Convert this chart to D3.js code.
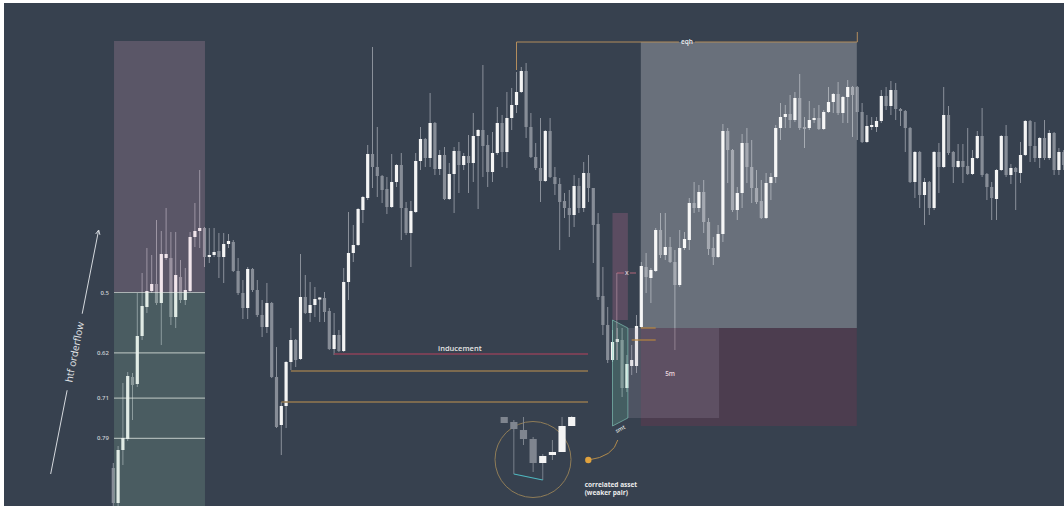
<!DOCTYPE html>
<html>
<head>
<meta charset="utf-8">
<script src="https://cdn.jsdelivr.net/npm/d3@7"></script>
<style>
  html, body { margin: 0; padding: 0; background: #ffffff; }
  svg { display: block; font-family: "Open Sans", "DejaVu Sans", sans-serif; }
</style>
</head>
<body>
<div id="chart"></div>
<script>
// main pair, one candle per slot: [open, high, low, close]
const candles = [
  [38,43,0,3],[3,60,0,56],[56,123,41,68],[67,134,65,130],[129,133,86,121],[122,213,119,170],
  [170,233,166,200],[199,258,193,215],[215,251,213,222],[222,286,201,203],[203,275,161,252],[248,298,246,252],
  [248,274,181,189],[189,274,178,231],[229,246,203,206],[206,238,201,216],[215,274,214,269],[269,303,259,275],
  [275,336,258,278],[278,279,239,249],[249,278,243,251],[251,278,249,254],[255,273,228,249],[249,273,223,262],
  [262,272,258,265],[264,266,234,235],[235,248,211,213],[213,226,187,198],[198,239,187,237],[237,238,214,216],
  [216,226,189,191],[191,206,169,179],[179,223,173,203],[203,204,128,129],[129,159,78,79],[81,104,51,100],
  [100,145,78,144],[144,178,136,166],[166,167,139,146],[147,252,146,209],[209,231,192,193],[193,224,184,201],
  [201,219,189,207],[206.5,209,184,208.5],[208,214,184,194],[195,198,156,157],[157,193,151,171],[171,176,154,155],
  [155,238,154,224],[224,294,206,253],[253,281,244,261],[261,298,260,297],[296,310,283,309],[308,361,306,352],
  [352,459,318,339],[339,379,309,330],[330,331,303,316],[317,329,292,299],[299,352,298,324],[324,342,319,341],
  [341,353,266,298],[298,304,271,273],[273,305,239,295],[294,353,293,345],[345,379,336,367],[367,368,339,348],
  [348,413,339,383],[383,384,331,337],[337,356,331,351],[351,359,306,307],[307,343,306,332],[332,359,293,355],
  [355,364,313,341],[341,353,336,350],[350,371,313,343],[343,393,324,370],[370,377,297,376],[376,441,329,360],
  [361,371,319,334],[334,374,324,353],[353,399,351,383],[383,391,339,354],[354,414,338,388],[388,418,376,401],
  [401,434,393,414],[414,439,413,435],[435,443,368,379],[379,393,348,349],[349,363,336,338],[338,388,304,325],
  [325,376,324,375],[375,388,328,329],[329,339,311,322],[322,328,256,304],[305,313,288,298],[298,316,269,291],
  [291,331,279,320],[320,328,293,298],[298,344,294,333],[333,351,304,318],[318,318,243,281],[282,293,206,209],
  [210,239,171,181],[181,199,143,146],[146,176,144,164],[164,178,146,167],[166,178,109,118],[118,151,114,142],
  [140,161,131,146],[140,191,133,180],[179,244,178,240],[239,253,213,229],[228,238,203,236],[235,278,234,276],
  [276,293,248,251],[251,293,246,259],[259,269,243,244],[244,256,156,221],[221,276,219,258],[258,274,256,267],
  [266,308,256,303],[303,324,293,298],[298,321,294,314],[314,326,273,284],[284,288,251,257],[258,269,241,249],
  [249,281,248,272],[272,382,264,375],[375,378,323,356],[356,357,294,296],[296,319,286,313],[313,372,298,363],
  [363,378,323,339],[339,366,303,318],[318,336,302,304],[305,326,287,288],[288,333,287,323],[323,333,306,329],
  [329,381,323,378],[378,403,366,389],[389,401,378,392],[392,411,378,386],[386,414,384,408],[408,432,376,378],
  [379,389,358,377],[378,405,376,386],[386,398,383,388],[388,401,376,377],[377,396,376,394],[394,419,393,404],
  [404,413,393,412],[412,424,391,393],[393,410,383,409],[409,426,383,419],[419,420,369,411],[419,420,366,394],
  [394,403,363,364],[364,391,363,380],[379,389,376,381],[379,389,374,385],[385,416,383,410],[410,419,396,400],
  [400,425,391,416],[416,423,386,397],[397,398,380,395],[395,396,354,378],[378,379,323,324],[324,355,308,354],
  [354,355,298,311],[311,328,281,324],[324,325,291,298],[298,355,296,354],[354,363,313,339],[339,419,338,391],
  [391,400,351,353],[354,355,323,339],[339,362,338,345],[345,362,323,339],[340,378,331,332],[332,356,331,348],
  [348,375,347,370],[370,398,329,331],[332,333,306,319],[319,324,286,308],[307,337,286,336],[336,371,335,370],
  [370,381,329,331],[331,342,322,338],[338,339,296,334],[333,364,323,351],[351,386,350,385],[385,386,344,360],
  [360,384,344,348],[348,369,338,368],[368,386,346,348],[348,376,346,373],[373,374,331,336],[336,358,331,354],
  [354,356,336,341]
];

// correlated asset (weaker pair) mini chart: [open, high, low, close]
const miniCandles = [
  [89,89,83,83],[84,86,74,77],[76,89,61,67],[67,69,34,43],
  [43,52,40,50],[51,66,46,54],[54,89,54,80],[80,90,80,89]
];

// htf fib: price of level 0 and level 1, drawn over candle slots
const fibTop = 465, fibBottom = -38;
const fibSlots = [0.15, 19.1];
const fibLevels = [0.5, 0.62, 0.71, 0.79];
const fibLabels = ['0.5', '0.62', '0.71', '0.79'];

// resting liquidity lines: [from slot, to slot, price]
const inducement = [46, 98.9, 152];
const sellside = [[37, 98.9, 135], [35, 98.9, 104]];

// equal highs
const eqhSlots = [84, 155];
const eqhPrice = 464, eqhWick = 436, eqhTick = 474;

// range boxes (slots and prices)
const premiumSlots = [109.9, 154.9], premiumPrices = [464, 178];
const discountPrices = [178, 80];
const fiveMinSlots = [107.2, 126.2], fiveMinPrices = [178, 88];
const smtSlots = [104.0, 107.2];
const smtTopPrices = [293, 186];
const smtPoly = [[104.0, 186], [107.2, 178], [107.2, 88], [104.0, 80]];

// small markers
const xMark = { from: 104.9, to: 108.9, price: 233, drop: 146, label: 107 };
const entryLines = [[109.9, 113.0, 178], [108.0, 113.0, 166]];

const W = 1064, H = 506;

const svg = d3.select('#chart').append('svg')
    .attr('width', W)
    .attr('height', H);

svg.append('rect')
    .attr('x', 4).attr('y', 3)
    .attr('width', W - 4).attr('height', H - 3)
    .attr('fill', '#37414f');

const x = d3.scaleLinear().domain([0, candles.length - 1]).range([113.3, 1063.7]);
const y = d3.scaleLinear().domain([0, 506]).range([506, 0]);

const plot = svg.append('g');

// candles
plot.selectAll('.wick')
    .data(candles)
    .enter()
    .append('line')
    .attr('class', 'wick')
    .attr('x1', (d, i) => x(i))
    .attr('x2', (d, i) => x(i))
    .attr('y1', d => y(d[1]))
    .attr('y2', d => y(d[2]))
    .attr('stroke', '#8a909a')
    .attr('stroke-width', 1);

plot.selectAll('.body')
    .data(candles)
    .enter()
    .append('rect')
    .attr('class', 'body')
    .attr('x', (d, i) => x(i) - 1.6)
    .attr('width', 3.2)
    .attr('y', d => y(Math.max(d[0], d[3])))
    .attr('height', d => Math.max(1, Math.abs(y(d[0]) - y(d[3]))))
    .attr('fill', d => d[3] >= d[0] ? '#f4f4f4' : '#878d97');

// zones
function zone(slots, prices, fill) {
    svg.append('rect')
        .attr('x', x(slots[0]))
        .attr('width', x(slots[1]) - x(slots[0]))
        .attr('y', y(prices[0]))
        .attr('height', y(prices[1]) - y(prices[0]))
        .attr('fill', fill);
}

const fibPrice = lvl => fibTop - lvl * (fibTop - fibBottom);

zone(fibSlots, [fibTop, fibPrice(0.5)], 'rgba(230,170,200,0.2)');
zone(fibSlots, [fibPrice(0.5), fibPrice(1)], 'rgba(150,200,170,0.2)');
zone(premiumSlots, premiumPrices, 'rgba(255,255,255,0.25)');
zone(premiumSlots, discountPrices, 'rgba(140,50,80,0.25)');
zone(fiveMinSlots, fiveMinPrices, 'rgba(170,160,180,0.2)');
zone(smtSlots, smtTopPrices, 'rgba(200,110,150,0.25)');

svg.append('polygon')
    .attr('points', smtPoly.map(d => [x(d[0]), y(d[1])].join(',')).join(' '))
    .attr('fill', 'rgba(120,200,170,0.22)')
    .attr('stroke', 'rgba(140,215,200,0.7)')
    .attr('stroke-width', 0.8);

// fib levels
svg.selectAll('.fib')
    .data(fibLevels)
    .enter()
    .append('line')
    .attr('x1', x(fibSlots[0]))
    .attr('x2', x(fibSlots[1]))
    .attr('y1', d => y(fibPrice(d)))
    .attr('y2', d => y(fibPrice(d)))
    .attr('stroke', 'rgba(235,240,235,0.6)')
    .attr('stroke-width', 1.2);

svg.selectAll('.fib-label')
    .data(fibLevels)
    .enter()
    .append('text')
    .attr('x', x(-0.9))
    .attr('y', d => y(fibPrice(d)))
    .attr('dy', '0.35em')
    .attr('text-anchor', 'end')
    .style('font-size', '6px')
    .style('font-weight', '600')
    .style('fill', '#c9ced3')
    .text((d, i) => fibLabels[i]);

// htf orderflow arrow
const arrowFrom = [-13.05, 32], arrowTo = [-3.05, 276];
const ax0 = x(arrowFrom[0]), ay0 = y(arrowFrom[1]), ax1 = x(arrowTo[0]), ay1 = y(arrowTo[1]);
const alen = Math.hypot(ax1 - ax0, ay1 - ay0);
const ux = (ax1 - ax0) / alen, uy = (ay1 - ay0) / alen;
const mid = alen / 2, gap = 39;
svg.append('line')
    .attr('x1', ax0).attr('y1', ay0)
    .attr('x2', ax0 + ux * (mid - gap)).attr('y2', ay0 + uy * (mid - gap))
    .attr('stroke', '#d5d9de').attr('stroke-width', 1);
svg.append('line')
    .attr('x1', ax0 + ux * (mid + gap)).attr('y1', ay0 + uy * (mid + gap))
    .attr('x2', ax1).attr('y2', ay1)
    .attr('stroke', '#d5d9de').attr('stroke-width', 1);
const ang = Math.atan2(uy, ux);
[0.45, -0.45].forEach(a => {
    svg.append('line')
        .attr('x1', ax1).attr('y1', ay1)
        .attr('x2', ax1 - 5 * Math.cos(ang + a)).attr('y2', ay1 - 5 * Math.sin(ang + a))
        .attr('stroke', '#d5d9de').attr('stroke-width', 1);
});
svg.append('text')
    .attr('transform', `translate(${ax0 + ux * mid},${ay0 + uy * mid}) rotate(${ang * 180 / Math.PI})`)
    .attr('text-anchor', 'middle')
    .attr('dy', '0.35em')
    .style('font-size', '10px')
    .style('fill', '#e2e5e8')
    .text('htf orderflow');

// liquidity lines
svg.append('line')
    .attr('x1', x(inducement[0])).attr('x2', x(inducement[1]))
    .attr('y1', y(inducement[2])).attr('y2', y(inducement[2]))
    .attr('stroke', '#8e4258').attr('stroke-width', 1.5);
svg.append('text')
    .attr('x', x(72.2)).attr('y', y(inducement[2]) - 3)
    .attr('text-anchor', 'middle')
    .style('font-size', '7.5px')
    .style('font-weight', '600')
    .style('fill', '#e4e4e4')
    .text('inducement');

svg.selectAll('.ssl')
    .data(sellside)
    .enter()
    .append('line')
    .attr('x1', d => x(d[0])).attr('x2', d => x(d[1]))
    .attr('y1', d => y(d[2])).attr('y2', d => y(d[2]))
    .attr('stroke', '#94794f').attr('stroke-width', 1.5);

// eqh
const eqhLabelX = x(119.5);
svg.append('path')
    .attr('d', `M${x(eqhSlots[0])},${y(eqhWick)}V${y(eqhPrice)}H${eqhLabelX - 8}`)
    .attr('fill', 'none').attr('stroke', '#b38d5d').attr('stroke-width', 1);
svg.append('path')
    .attr('d', `M${eqhLabelX + 8},${y(eqhPrice)}H${x(eqhSlots[1])}V${y(eqhTick)}`)
    .attr('fill', 'none').attr('stroke', '#b38d5d').attr('stroke-width', 1);
svg.append('text')
    .attr('x', eqhLabelX).attr('y', y(eqhPrice))
    .attr('dy', '0.35em')
    .attr('text-anchor', 'middle')
    .style('font-size', '6.5px')
    .style('font-weight', '600')
    .style('fill', '#f0f0f0')
    .text('eqh');

// x marker and entry lines
svg.append('line')
    .attr('x1', x(xMark.from)).attr('x2', x(xMark.label) - 3)
    .attr('y1', y(xMark.price)).attr('y2', y(xMark.price))
    .attr('stroke', '#b4667a').attr('stroke-width', 1);
svg.append('line')
    .attr('x1', x(xMark.label) + 3).attr('x2', x(xMark.to))
    .attr('y1', y(xMark.price)).attr('y2', y(xMark.price))
    .attr('stroke', '#b4667a').attr('stroke-width', 1);
svg.append('line')
    .attr('x1', x(xMark.from)).attr('x2', x(xMark.from))
    .attr('y1', y(xMark.price)).attr('y2', y(xMark.drop))
    .attr('stroke', 'rgba(220,180,195,0.6)').attr('stroke-width', 0.8);
svg.append('text')
    .attr('x', x(xMark.label)).attr('y', y(xMark.price))
    .attr('dy', '0.35em')
    .attr('text-anchor', 'middle')
    .style('font-size', '7px')
    .style('fill', '#f0e0e6')
    .text('x');

svg.selectAll('.entry')
    .data(entryLines)
    .enter()
    .append('line')
    .attr('x1', d => x(d[0])).attr('x2', d => x(d[1]))
    .attr('y1', d => y(d[2])).attr('y2', d => y(d[2]))
    .attr('stroke', '#b8843f').attr('stroke-width', 1.2);

svg.append('text')
    .attr('x', x(116)).attr('y', y(132))
    .attr('dy', '0.35em')
    .attr('text-anchor', 'middle')
    .style('font-size', '6.5px')
    .style('font-weight', '600')
    .style('fill', '#ecd6de')
    .text('5m');

svg.append('text')
    .attr('transform', `translate(${x(105.6)},${y(77)}) rotate(-28)`)
    .attr('text-anchor', 'middle')
    .attr('dy', '0.35em')
    .style('font-size', '5.5px')
    .style('font-weight', '600')
    .style('fill', '#e8eeec')
    .text('smt');

// correlated asset
const mx = d3.scaleLinear().domain([0, miniCandles.length - 1]).range([504.2, 571.7]);
const circleCenter = [87.44, 46.5];

svg.append('circle')
    .attr('cx', x(circleCenter[0])).attr('cy', y(circleCenter[1]))
    .attr('r', 38)
    .attr('fill', 'none')
    .attr('stroke', '#8f7c57')
    .attr('stroke-width', 1);

const mini = svg.append('g');
mini.selectAll('line')
    .data(miniCandles)
    .enter()
    .append('line')
    .attr('x1', (d, i) => mx(i)).attr('x2', (d, i) => mx(i))
    .attr('y1', d => y(d[1])).attr('y2', d => y(d[2]))
    .attr('stroke', '#7e848e').attr('stroke-width', 1);
mini.selectAll('rect')
    .data(miniCandles)
    .enter()
    .append('rect')
    .attr('x', (d, i) => mx(i) - 3.6)
    .attr('width', 7.2)
    .attr('y', d => y(Math.max(d[0], d[3])))
    .attr('height', d => Math.max(1, Math.abs(y(d[0]) - y(d[3]))))
    .attr('fill', d => d[3] >= d[0] ? '#f4f4f4' : '#7f858f');

const bracket = [[1, 32], [4, 26]];
bracket.forEach(b => {
    svg.append('line')
        .attr('x1', mx(b[0])).attr('x2', mx(b[0]))
        .attr('y1', y(miniCandles[b[0]][2])).attr('y2', y(b[1]))
        .attr('stroke', '#8a909a').attr('stroke-width', 0.8);
});
svg.append('line')
    .attr('x1', mx(bracket[0][0])).attr('y1', y(bracket[0][1]))
    .attr('x2', mx(bracket[1][0])).attr('y2', y(bracket[1][1]))
    .attr('stroke', '#4fb8c0').attr('stroke-width', 1.2);

const dot = [98.96, 46], curveCtrl = [104.2, 49.3], curveEnd = [105.1, 66];
svg.append('path')
    .attr('d', `M${x(dot[0])},${y(dot[1])}Q${x(curveCtrl[0])},${y(curveCtrl[1])} ${x(curveEnd[0])},${y(curveEnd[1])}`)
    .attr('fill', 'none')
    .attr('stroke', '#b08a4c')
    .attr('stroke-width', 1);
svg.append('circle')
    .attr('cx', x(dot[0])).attr('cy', y(dot[1]))
    .attr('r', 3.2)
    .attr('fill', '#e0a23e');

svg.append('text')
    .attr('x', x(98.2)).attr('y', y(19))
    .style('font-size', '6.5px')
    .style('font-weight', '700')
    .style('fill', '#ececec')
    .text('correlated asset');
svg.append('text')
    .attr('x', x(98.2)).attr('y', y(11.5))
    .style('font-size', '6.5px')
    .style('font-weight', '700')
    .style('fill', '#ececec')
    .text('(weaker pair)');
</script>
</body>
</html>
